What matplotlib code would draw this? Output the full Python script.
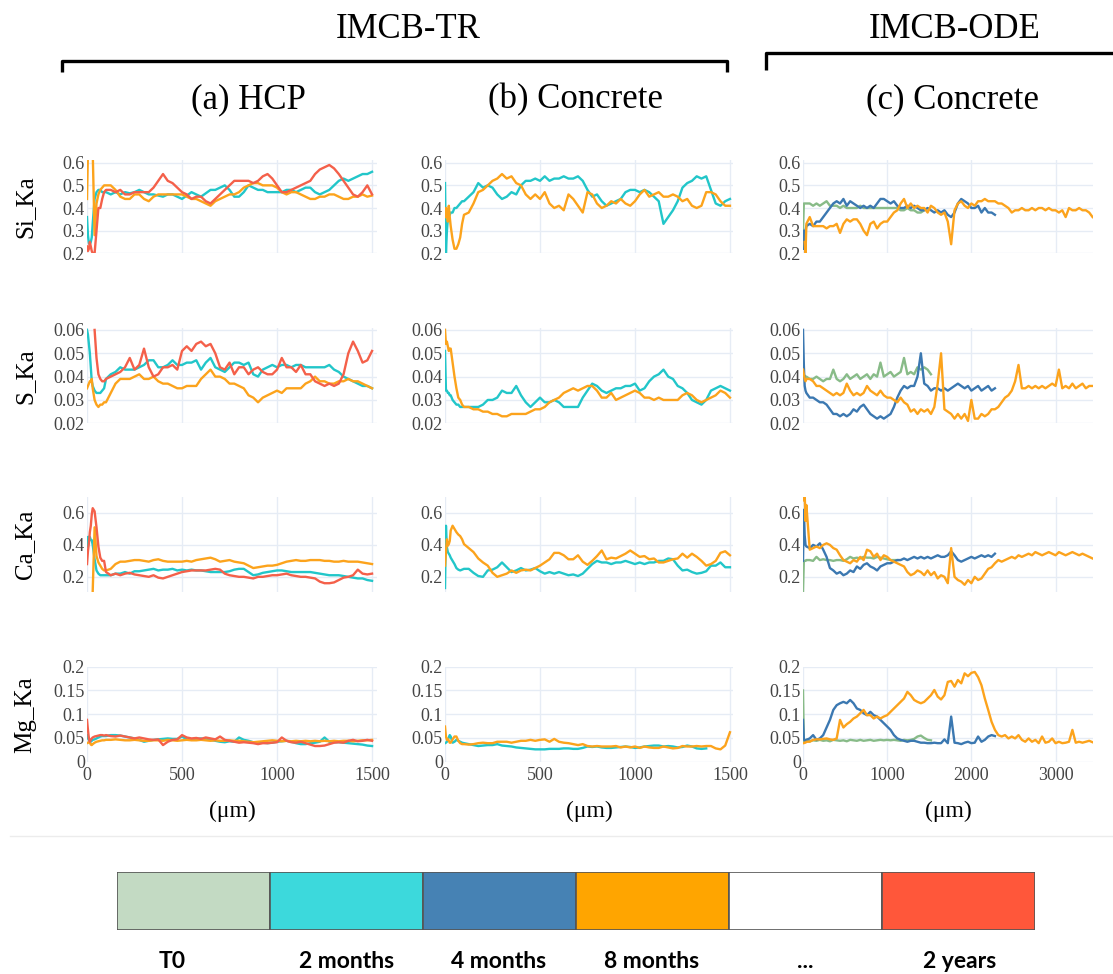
import matplotlib
matplotlib.use("Agg")
import matplotlib.pyplot as plt
from matplotlib.lines import Line2D

nan = float("nan")

# ---------------------------------------------------------------------------
# Sampling depths (µm) of the EDS line profiles
# ---------------------------------------------------------------------------
TR_DEPTH = [0, 5, 10, 15, 20, 25, 30, 40, 50, 60, 70, 80, 90] + list(range(100, 1501, 25))
ODE_DEPTH = [0, 10, 20, 30] + list(range(40, 3441, 40))

ELEMENTS = ["Si_Ka", "S_Ka", "Ca_Ka", "Mg_Ka"]
PERIODS = ["T0", "2 months", "4 months", "8 months", "...", "2 years"]
COLUMN_TITLES = ["(a) HCP", "(b) Concrete", "(c) Concrete"]
GROUP_TITLES = ["IMCB-TR", "IMCB-ODE"]

# ---------------------------------------------------------------------------
# Si_Ka
# ---------------------------------------------------------------------------
si_hcp_2m = [
    0.36, 0.28, 0.245, 0.24, 0.25, 0.27, 0.33, 0.44, 0.47, 0.48, 0.48, 0.47, 0.47,
    0.47, 0.46, 0.47, 0.46, 0.47, 0.465, 0.47, 0.48, 0.47, 0.46, 0.46, 0.455, 0.45, 0.46, 0.46, 0.45,
    0.44, 0.455, 0.47, 0.46, 0.45, 0.465, 0.48, 0.48, 0.49, 0.50, 0.48, 0.45, 0.45, 0.47, 0.50, 0.49,
    0.48, 0.48, 0.47, 0.47, 0.47, 0.47, 0.48, 0.48, 0.47, 0.48, 0.49, 0.49, 0.47, 0.46, 0.47, 0.48,
    0.50, 0.52, 0.53, 0.52, 0.53, 0.54, 0.55, 0.55, 0.56]
si_hcp_8m = [
    0.44, 0.65, 0.65, 0.65, 0.65, 0.65, 0.65, 0.28, 0.42, 0.46, 0.48, 0.49, 0.50,
    0.50, 0.50, 0.48, 0.45, 0.44, 0.44, 0.46, 0.46, 0.44, 0.43, 0.45, 0.46, 0.46, 0.46, 0.46, 0.46,
    0.46, 0.45, 0.44, 0.44, 0.43, 0.42, 0.41, 0.43, 0.44, 0.45, 0.46, 0.46, 0.47, 0.49, 0.50, 0.51,
    0.51, 0.50, 0.50, 0.50, 0.49, 0.47, 0.46, 0.47, 0.47, 0.46, 0.45, 0.44, 0.44, 0.45, 0.45, 0.46,
    0.46, 0.45, 0.44, 0.44, 0.45, 0.45, 0.46, 0.45, 0.455]
si_hcp_2y = [
    0.23, 0.21, 0.22, 0.25, 0.23, 0.21, 0.20, 0.20, 0.30, 0.40, 0.40, 0.44, 0.47,
    0.48, 0.48, 0.47, 0.48, 0.46, 0.46, 0.47, 0.47, 0.47, 0.47, 0.49, 0.52, 0.55, 0.52, 0.51, 0.49,
    0.47, 0.46, 0.44, 0.45, 0.45, 0.43, 0.42, 0.44, 0.46, 0.48, 0.50, 0.52, 0.52, 0.52, 0.52, 0.51,
    0.52, 0.54, 0.55, 0.53, 0.50, 0.47, 0.47, 0.48, 0.49, 0.50, 0.51, 0.52, 0.55, 0.57, 0.58, 0.59,
    0.575, 0.55, 0.52, 0.49, 0.46, 0.45, 0.47, 0.50, 0.46]
si_con_2m = [
    0.51, 0.20, 0.30, 0.35, 0.36, 0.37, 0.38, 0.38, 0.40, 0.40, 0.41, 0.42, 0.43,
    0.43, 0.45, 0.47, 0.51, 0.49, 0.50, 0.49, 0.46, 0.44, 0.45, 0.47, 0.46, 0.50, 0.52, 0.52, 0.53,
    0.52, 0.54, 0.52, 0.53, 0.53, 0.54, 0.53, 0.53, 0.54, 0.52, 0.48, 0.45, 0.46, 0.43, 0.41, 0.42,
    0.43, 0.44, 0.47, 0.48, 0.48, 0.47, 0.48, 0.47, 0.45, 0.43, 0.33, 0.36, 0.39, 0.43, 0.49, 0.51,
    0.52, 0.54, 0.53, 0.54, 0.48, 0.42, 0.41, 0.43, 0.44]
si_con_8m = [
    0.36, 0.40, 0.38, 0.34, 0.41, 0.36, 0.32, 0.26, 0.22, 0.22, 0.24, 0.27, 0.33,
    0.37, 0.38, 0.42, 0.47, 0.48, 0.50, 0.52, 0.53, 0.55, 0.53, 0.54, 0.51, 0.50, 0.46, 0.44, 0.46,
    0.44, 0.47, 0.42, 0.40, 0.41, 0.39, 0.46, 0.44, 0.41, 0.38, 0.47, 0.46, 0.42, 0.40, 0.41, 0.43,
    0.42, 0.44, 0.42, 0.41, 0.43, 0.46, 0.48, 0.45, 0.46, 0.47, 0.45, 0.45, 0.46, 0.45, 0.43, 0.44,
    0.41, 0.40, 0.41, 0.47, 0.47, 0.46, 0.43, 0.41, 0.41]
si_ode_t0 = [
    0.30, 0.42, 0.42, 0.42,
    0.42, 0.42, 0.41, 0.42, 0.41, 0.42, 0.43, 0.41, 0.41, 0.41,
    0.40, 0.41, 0.40, 0.40, 0.40, 0.40, 0.41, 0.40, 0.40, 0.40,
    0.40, 0.40, 0.40, 0.40, 0.40, 0.40, 0.40, 0.40, 0.39, 0.39,
    0.40, 0.39, 0.39, 0.38, 0.38, 0.39]
si_ode_4m = [
    0.22, 0.30, 0.25, 0.30,
    0.32, 0.33, 0.32, 0.34, 0.34, 0.36, 0.38, 0.40, 0.42, 0.43,
    0.42, 0.44, 0.41, 0.43, 0.42, 0.41, 0.40, 0.41, 0.40, 0.41,
    0.40, 0.42, 0.44, 0.44, 0.43, 0.42, 0.43, 0.41, 0.40, 0.40,
    0.41, 0.40, 0.41, 0.40, 0.39, 0.39, 0.40, 0.39, 0.38, 0.39,
    0.38, 0.39, 0.37, 0.36, 0.38, 0.42, 0.44, 0.43, 0.42, 0.40,
    0.40, 0.41, 0.38, 0.40, 0.38, 0.38, 0.37]
si_ode_8m = [
    nan, nan, 0.25, 0.20,
    0.33, 0.36, 0.32, 0.32, 0.32, 0.32, 0.31, 0.32, 0.32, 0.33,
    0.29, 0.33, 0.35, 0.34, 0.35, 0.35, 0.33, 0.30, 0.28, 0.33,
    0.34, 0.31, 0.33, 0.34, 0.34, 0.36, 0.38, 0.39, 0.42, 0.44,
    0.40, 0.42, 0.40, 0.41, 0.40, 0.40, 0.38, 0.41, 0.40, 0.38,
    0.37, 0.38, 0.34, 0.24, 0.39, 0.42, 0.43, 0.41, 0.40, 0.42,
    0.41, 0.43, 0.43, 0.44, 0.43, 0.43, 0.43, 0.42, 0.42, 0.41,
    0.40, 0.38, 0.39, 0.39, 0.40, 0.39, 0.39, 0.40, 0.39, 0.40,
    0.40, 0.39, 0.40, 0.39, 0.39, 0.38, 0.39, 0.36, 0.40, 0.39,
    0.39, 0.40, 0.39, 0.39, 0.38, 0.36]

# ---------------------------------------------------------------------------
# S_Ka
# ---------------------------------------------------------------------------
s_hcp_2m = [
    0.060, 0.058, 0.054, 0.050, 0.044, 0.038, 0.036, 0.034, 0.033, 0.033, 0.033, 0.034, 0.035,
    0.039, 0.041, 0.042, 0.044, 0.043, 0.043, 0.043, 0.044, 0.045, 0.047, 0.047, 0.044, 0.044, 0.045, 0.047, 0.045,
    0.045, 0.046, 0.046, 0.047, 0.043, 0.046, 0.048, 0.044, 0.043, 0.042, 0.044, 0.046, 0.046, 0.045, 0.046, 0.041,
    0.040, 0.043, 0.044, 0.045, 0.044, 0.045, 0.045, 0.044, 0.045, 0.045, 0.044, 0.044, 0.044, 0.044, 0.044, 0.045,
    0.043, 0.042, 0.040, 0.039, 0.038, 0.037, 0.036, 0.036, 0.035]
s_hcp_8m = [
    0.035, 0.036, 0.037, 0.038, 0.038, 0.039, 0.035, 0.030, 0.028, 0.027, 0.028, 0.028, 0.029,
    0.029, 0.033, 0.037, 0.039, 0.039, 0.039, 0.040, 0.041, 0.039, 0.039, 0.040, 0.038, 0.037, 0.037, 0.036, 0.035,
    0.035, 0.036, 0.036, 0.036, 0.039, 0.041, 0.043, 0.040, 0.040, 0.039, 0.037, 0.037, 0.036, 0.035, 0.032, 0.031,
    0.029, 0.031, 0.032, 0.033, 0.034, 0.033, 0.035, 0.035, 0.035, 0.035, 0.037, 0.038, 0.040, 0.038, 0.038, 0.037,
    0.037, 0.038, 0.038, 0.039, 0.038, 0.038, 0.037, 0.036, 0.035]
s_hcp_2y = [
    nan, nan, nan, nan, nan, nan, nan, 0.060, 0.048, 0.041, 0.039, 0.038, 0.038,
    0.039, 0.040, 0.041, 0.042, 0.044, 0.048, 0.043, 0.045, 0.052, 0.044, 0.040, 0.041, 0.044, 0.044, 0.045, 0.043,
    0.051, 0.053, 0.051, 0.054, 0.055, 0.053, 0.054, 0.050, 0.044, 0.043, 0.046, 0.041, 0.044, 0.044, 0.041, 0.043,
    0.044, 0.042, 0.041, 0.041, 0.043, 0.048, 0.044, 0.044, 0.042, 0.045, 0.041, 0.041, 0.038, 0.037, 0.036, 0.037,
    0.036, 0.037, 0.041, 0.050, 0.055, 0.051, 0.046, 0.047, 0.051]
s_con_2m = [
    0.051, 0.034, 0.034, 0.033, 0.033, 0.032, 0.032, 0.030, 0.029, 0.028, 0.028, 0.027, 0.027,
    0.027, 0.027, 0.027, 0.027, 0.028, 0.030, 0.030, 0.031, 0.034, 0.033, 0.033, 0.036, 0.032, 0.029, 0.027, 0.029,
    0.031, 0.029, 0.029, 0.030, 0.029, 0.027, 0.027, 0.027, 0.027, 0.031, 0.034, 0.037, 0.036, 0.034, 0.033, 0.034,
    0.035, 0.035, 0.036, 0.036, 0.037, 0.034, 0.035, 0.038, 0.040, 0.041, 0.043, 0.040, 0.039, 0.036, 0.035, 0.033,
    0.030, 0.029, 0.028, 0.030, 0.034, 0.035, 0.036, 0.035, 0.034]
s_con_8m = [
    0.060, 0.054, 0.055, 0.053, 0.051, 0.052, 0.052, 0.046, 0.040, 0.035, 0.031, 0.030, 0.028,
    0.027, 0.027, 0.026, 0.026, 0.025, 0.025, 0.024, 0.024, 0.023, 0.023, 0.024, 0.024, 0.024, 0.024, 0.025, 0.026,
    0.026, 0.027, 0.029, 0.030, 0.031, 0.033, 0.034, 0.035, 0.034, 0.035, 0.036, 0.036, 0.034, 0.031, 0.031, 0.033,
    0.030, 0.031, 0.032, 0.033, 0.034, 0.033, 0.031, 0.031, 0.030, 0.031, 0.030, 0.030, 0.030, 0.030, 0.032, 0.033,
    0.032, 0.030, 0.029, 0.030, 0.031, 0.032, 0.034, 0.033, 0.031]
s_ode_t0 = [
    0.041, 0.041, 0.040, 0.040,
    0.040, 0.039, 0.039, 0.040, 0.039, 0.038, 0.039, 0.039, 0.043, 0.039,
    0.038, 0.039, 0.041, 0.039, 0.040, 0.041, 0.039, 0.040, 0.041, 0.039,
    0.041, 0.040, 0.046, 0.040, 0.041, 0.042, 0.040, 0.041, 0.042, 0.048,
    0.041, 0.042, 0.041, 0.044, 0.043, 0.044, 0.043, 0.041]
s_ode_4m = [
    0.060, 0.045, 0.036, 0.034,
    0.033, 0.031, 0.031, 0.030, 0.029, 0.029, 0.028, 0.026, 0.024, 0.024,
    0.023, 0.024, 0.023, 0.024, 0.026, 0.025, 0.027, 0.028, 0.026, 0.024,
    0.023, 0.022, 0.023, 0.022, 0.023, 0.024, 0.027, 0.031, 0.034, 0.036,
    0.035, 0.036, 0.036, 0.040, 0.050, 0.037, 0.036, 0.034, 0.035, 0.035,
    0.034, 0.035, 0.034, 0.035, 0.036, 0.037, 0.036, 0.035, 0.036, 0.034,
    0.035, 0.036, 0.034, 0.035, 0.036, 0.034, 0.035]
s_ode_8m = [
    0.043, 0.041, 0.039, 0.038,
    0.039, 0.039, 0.038, 0.036, 0.036, 0.035, 0.034, 0.033, 0.032, 0.033,
    0.032, 0.033, 0.037, 0.034, 0.032, 0.033, 0.032, 0.033, 0.036, 0.034,
    0.033, 0.032, 0.034, 0.032, 0.031, 0.031, 0.030, 0.029, 0.031, 0.029,
    0.028, 0.025, 0.026, 0.024, 0.026, 0.025, 0.026, 0.024, 0.027, 0.037,
    0.050, 0.026, 0.025, 0.024, 0.022, 0.024, 0.022, 0.024, 0.021, 0.030,
    0.022, 0.022, 0.024, 0.023, 0.024, 0.026, 0.026, 0.027, 0.029, 0.031,
    0.032, 0.034, 0.038, 0.045, 0.035, 0.035, 0.036, 0.035, 0.036, 0.035,
    0.036, 0.035, 0.036, 0.037, 0.036, 0.043, 0.035, 0.036, 0.035, 0.037,
    0.035, 0.036, 0.037, 0.035, 0.036, 0.036]

# ---------------------------------------------------------------------------
# Ca_Ka
# ---------------------------------------------------------------------------
ca_hcp_2m = [
    0.39, 0.45, 0.45, 0.45, 0.43, 0.43, 0.40, 0.31, 0.24, 0.22, 0.21, 0.21, 0.21,
    0.21, 0.21, 0.22, 0.22, 0.23, 0.22, 0.235, 0.235, 0.24, 0.245, 0.25, 0.24, 0.245, 0.245, 0.25, 0.24,
    0.245, 0.24, 0.245, 0.24, 0.24, 0.235, 0.23, 0.23, 0.23, 0.23, 0.235, 0.245, 0.25, 0.25, 0.23, 0.21,
    0.215, 0.225, 0.23, 0.235, 0.24, 0.24, 0.235, 0.23, 0.23, 0.23, 0.23, 0.23, 0.225, 0.22, 0.215, 0.21,
    0.21, 0.21, 0.205, 0.20, 0.195, 0.19, 0.19, 0.18, 0.175]
ca_hcp_8m = [
    nan, nan, nan, nan, nan, nan, 0.11, 0.51, 0.33, 0.29, 0.27, 0.25, 0.24,
    0.24, 0.25, 0.28, 0.295, 0.295, 0.30, 0.305, 0.305, 0.30, 0.295, 0.305, 0.31, 0.30, 0.295, 0.295, 0.295,
    0.295, 0.30, 0.295, 0.305, 0.31, 0.315, 0.32, 0.31, 0.295, 0.30, 0.305, 0.295, 0.29, 0.285, 0.27, 0.255,
    0.26, 0.265, 0.27, 0.27, 0.275, 0.285, 0.295, 0.30, 0.305, 0.30, 0.30, 0.305, 0.305, 0.305, 0.30, 0.30,
    0.295, 0.295, 0.30, 0.295, 0.295, 0.295, 0.29, 0.285, 0.28]
ca_hcp_2y = [
    0.28, 0.36, 0.41, 0.48, 0.52, 0.59, 0.63, 0.61, 0.51, 0.39, 0.32, 0.30, 0.30,
    0.23, 0.21, 0.22, 0.21, 0.22, 0.225, 0.215, 0.21, 0.205, 0.20, 0.21, 0.195, 0.19, 0.20, 0.21, 0.22,
    0.23, 0.235, 0.24, 0.24, 0.24, 0.24, 0.245, 0.25, 0.245, 0.22, 0.21, 0.205, 0.20, 0.20, 0.195, 0.19,
    0.20, 0.20, 0.205, 0.21, 0.21, 0.215, 0.22, 0.21, 0.205, 0.20, 0.20, 0.195, 0.19, 0.17, 0.16, 0.16,
    0.165, 0.18, 0.195, 0.20, 0.21, 0.245, 0.22, 0.215, 0.22]
ca_con_2m = [
    0.13, 0.52, 0.385, 0.355, 0.345, 0.335, 0.32, 0.30, 0.28, 0.255, 0.245, 0.24, 0.245,
    0.25, 0.25, 0.225, 0.205, 0.20, 0.24, 0.245, 0.26, 0.29, 0.26, 0.23, 0.24, 0.255, 0.24, 0.245, 0.255,
    0.235, 0.22, 0.23, 0.22, 0.23, 0.22, 0.21, 0.215, 0.205, 0.22, 0.25, 0.28, 0.30, 0.29, 0.29, 0.28,
    0.29, 0.29, 0.30, 0.29, 0.28, 0.29, 0.28, 0.29, 0.29, 0.30, 0.30, 0.315, 0.31, 0.27, 0.24, 0.245,
    0.23, 0.22, 0.225, 0.235, 0.27, 0.27, 0.29, 0.26, 0.26]
ca_con_8m = [
    0.27, 0.355, 0.435, 0.395, 0.405, 0.425, 0.49, 0.52, 0.50, 0.48, 0.465, 0.455, 0.435,
    0.405, 0.38, 0.355, 0.315, 0.29, 0.27, 0.225, 0.20, 0.21, 0.22, 0.24, 0.225, 0.24, 0.245, 0.24, 0.255,
    0.27, 0.29, 0.31, 0.35, 0.35, 0.335, 0.31, 0.31, 0.335, 0.295, 0.275, 0.30, 0.33, 0.365, 0.31, 0.32,
    0.315, 0.33, 0.345, 0.365, 0.345, 0.325, 0.33, 0.31, 0.315, 0.29, 0.29, 0.30, 0.31, 0.315, 0.345, 0.32,
    0.345, 0.325, 0.30, 0.27, 0.28, 0.30, 0.35, 0.36, 0.335]
ca_ode_t0 = [
    0.11, 0.30, 0.30, 0.30,
    0.305, 0.305, 0.30, 0.325, 0.305, 0.31, 0.305, 0.305, 0.30, 0.305,
    0.305, 0.30, 0.31, 0.325, 0.315, 0.32, 0.315, 0.325, 0.32, 0.32,
    0.315, 0.325, 0.32, 0.315, 0.31, 0.305, 0.305, 0.305]
ca_ode_4m = [
    0.30, 0.62, 0.46, 0.40,
    0.39, 0.38, 0.40, 0.39, 0.41, 0.37, 0.325, 0.255, 0.24, 0.22,
    0.23, 0.21, 0.22, 0.24, 0.23, 0.265, 0.25, 0.275, 0.285, 0.265,
    0.255, 0.24, 0.265, 0.275, 0.285, 0.285, 0.295, 0.305, 0.305, 0.315,
    0.305, 0.315, 0.325, 0.315, 0.325, 0.315, 0.325, 0.315, 0.325, 0.335,
    0.325, 0.325, 0.335, 0.36, 0.335, 0.305, 0.295, 0.305, 0.315, 0.325,
    0.315, 0.325, 0.335, 0.325, 0.335, 0.325, 0.345]
ca_ode_8m = [
    0.68, 0.72, 0.72, 0.55,
    0.65, 0.37, 0.38, 0.39, 0.38, 0.40, 0.41, 0.40, 0.38, 0.37,
    0.335, 0.305, 0.295, 0.285, 0.305, 0.295, 0.325, 0.305, 0.37, 0.36,
    0.325, 0.345, 0.305, 0.335, 0.325, 0.305, 0.295, 0.285, 0.275, 0.265,
    0.23, 0.21, 0.22, 0.24, 0.23, 0.21, 0.24, 0.21, 0.23, 0.19,
    0.21, 0.20, 0.16, 0.38, 0.20, 0.18, 0.17, 0.15, 0.18, 0.16,
    0.20, 0.18, 0.19, 0.22, 0.25, 0.26, 0.285, 0.305, 0.295, 0.305,
    0.315, 0.325, 0.315, 0.335, 0.325, 0.335, 0.345, 0.335, 0.355, 0.345,
    0.335, 0.345, 0.355, 0.345, 0.335, 0.355, 0.345, 0.335, 0.345, 0.355,
    0.345, 0.335, 0.345, 0.335, 0.325, 0.315]

# ---------------------------------------------------------------------------
# Mg_Ka
# ---------------------------------------------------------------------------
mg_hcp_2m = [
    0.056, 0.049, 0.046, 0.042, 0.042, 0.044, 0.046, 0.047, 0.049, 0.051, 0.053, 0.054, 0.054,
    0.054, 0.056, 0.056, 0.055, 0.053, 0.051, 0.049, 0.046, 0.042, 0.044, 0.046, 0.047, 0.048, 0.049, 0.048, 0.048,
    0.053, 0.047, 0.046, 0.048, 0.049, 0.047, 0.046, 0.044, 0.042, 0.041, 0.043, 0.042, 0.051, 0.046, 0.044, 0.041,
    0.040, 0.040, 0.039, 0.040, 0.042, 0.043, 0.044, 0.042, 0.039, 0.037, 0.037, 0.039, 0.040, 0.042, 0.051, 0.042,
    0.041, 0.041, 0.040, 0.039, 0.038, 0.037, 0.036, 0.034, 0.033]
mg_hcp_8m = [
    0.039, 0.040, 0.041, 0.040, 0.036, 0.035, 0.037, 0.040, 0.042, 0.043, 0.044, 0.045, 0.045,
    0.046, 0.046, 0.047, 0.046, 0.045, 0.045, 0.046, 0.045, 0.044, 0.044, 0.045, 0.045, 0.044, 0.046, 0.045, 0.044,
    0.045, 0.046, 0.045, 0.045, 0.046, 0.045, 0.044, 0.045, 0.044, 0.044, 0.045, 0.044, 0.044, 0.043, 0.042, 0.041,
    0.042, 0.043, 0.044, 0.045, 0.044, 0.043, 0.044, 0.043, 0.044, 0.043, 0.044, 0.043, 0.044, 0.043, 0.044, 0.043,
    0.044, 0.043, 0.044, 0.044, 0.043, 0.044, 0.045, 0.045, 0.046]
mg_hcp_2y = [
    0.088, 0.067, 0.049, 0.042, 0.046, 0.049, 0.051, 0.053, 0.054, 0.055, 0.056, 0.056, 0.055,
    0.056, 0.054, 0.053, 0.055, 0.053, 0.051, 0.049, 0.051, 0.049, 0.047, 0.046, 0.047, 0.035, 0.042, 0.046, 0.047,
    0.056, 0.051, 0.049, 0.050, 0.048, 0.051, 0.049, 0.047, 0.053, 0.046, 0.044, 0.042, 0.040, 0.041, 0.040, 0.039,
    0.037, 0.039, 0.039, 0.040, 0.041, 0.051, 0.044, 0.041, 0.040, 0.042, 0.039, 0.036, 0.033, 0.033, 0.034, 0.037,
    0.040, 0.041, 0.040, 0.044, 0.046, 0.043, 0.044, 0.046, 0.044]
mg_con_2m = [
    0.039, 0.040, 0.042, 0.046, 0.051, 0.056, 0.053, 0.040, 0.042, 0.046, 0.044, 0.042, 0.040,
    0.039, 0.037, 0.035, 0.033, 0.034, 0.035, 0.035, 0.037, 0.034, 0.033, 0.032, 0.030, 0.029, 0.028, 0.027, 0.026,
    0.026, 0.026, 0.027, 0.027, 0.027, 0.028, 0.028, 0.027, 0.027, 0.029, 0.032, 0.031, 0.032, 0.030, 0.029, 0.029,
    0.030, 0.031, 0.032, 0.031, 0.029, 0.030, 0.032, 0.033, 0.034, 0.034, 0.032, 0.033, 0.032, 0.030, 0.031, 0.034,
    0.032, 0.028, 0.027, 0.028]
mg_con_8m = [
    0.074, 0.053, 0.046, 0.048, 0.044, 0.040, 0.040, 0.047, 0.053, 0.053, 0.044, 0.039, 0.037,
    0.037, 0.036, 0.037, 0.039, 0.040, 0.039, 0.039, 0.042, 0.042, 0.042, 0.040, 0.042, 0.044, 0.044, 0.046, 0.044,
    0.046, 0.047, 0.042, 0.048, 0.042, 0.040, 0.039, 0.037, 0.035, 0.037, 0.033, 0.032, 0.033, 0.032, 0.032, 0.032,
    0.033, 0.030, 0.032, 0.030, 0.032, 0.029, 0.032, 0.030, 0.029, 0.029, 0.032, 0.030, 0.028, 0.029, 0.033, 0.032,
    0.032, 0.033, 0.032, 0.033, 0.033, 0.028, 0.026, 0.034, 0.062]
mg_ode_t0 = [
    0.15, 0.040, 0.045, 0.046,
    0.046, 0.043, 0.045, 0.044, 0.046, 0.044, 0.045, 0.043, 0.046, 0.045,
    0.044, 0.045, 0.043, 0.046, 0.045, 0.044, 0.046, 0.044, 0.045, 0.046,
    0.044, 0.045, 0.046, 0.045, 0.046, 0.045, 0.046, 0.045, 0.044, 0.046,
    0.045, 0.046, 0.048, 0.053, 0.055, 0.050, 0.046, 0.045]
mg_ode_4m = [
    0.088, 0.047, 0.045, 0.044,
    0.046, 0.049, 0.056, 0.046, 0.049, 0.056, 0.072, 0.088, 0.109, 0.119,
    0.123, 0.126, 0.123, 0.130, 0.123, 0.112, 0.109, 0.102, 0.098, 0.105,
    0.098, 0.095, 0.088, 0.081, 0.074, 0.067, 0.056, 0.049, 0.046, 0.044,
    0.042, 0.044, 0.044, 0.042, 0.040, 0.040, 0.039, 0.039, 0.040, 0.039,
    0.039, 0.047, 0.039, 0.095, 0.040, 0.039, 0.037, 0.040, 0.042, 0.039,
    0.040, 0.053, 0.042, 0.046, 0.053, 0.056, 0.054]
mg_ode_8m = [
    0.039, 0.039, 0.040, 0.040,
    0.042, 0.042, 0.046, 0.047, 0.047, 0.048, 0.049, 0.047, 0.046, 0.049,
    0.088, 0.072, 0.079, 0.084, 0.091, 0.095, 0.102, 0.109, 0.098, 0.098,
    0.091, 0.095, 0.091, 0.095, 0.098, 0.105, 0.112, 0.119, 0.126, 0.133,
    0.147, 0.140, 0.130, 0.126, 0.123, 0.126, 0.133, 0.140, 0.151, 0.137,
    0.131, 0.140, 0.168, 0.170, 0.158, 0.172, 0.165, 0.186, 0.180, 0.187,
    0.189, 0.178, 0.161, 0.133, 0.109, 0.084, 0.067, 0.056, 0.053, 0.056,
    0.049, 0.053, 0.049, 0.056, 0.046, 0.042, 0.049, 0.042, 0.046, 0.039,
    0.053, 0.040, 0.042, 0.049, 0.039, 0.042, 0.039, 0.040, 0.042, 0.067,
    0.040, 0.042, 0.040, 0.042, 0.044, 0.041]

# ---------------------------------------------------------------------------
# Axis settings per element row
# ---------------------------------------------------------------------------
Y_LIMITS = [(0.2, 0.612), (0.02, 0.0607), (0.105, 0.70), (0.0, 0.2)]
Y_TICKS = [[0.2, 0.3, 0.4, 0.5, 0.6],
           [0.02, 0.03, 0.04, 0.05, 0.06],
           [0.2, 0.4, 0.6],
           [0.0, 0.05, 0.1, 0.15, 0.2]]
Y_TICKLABELS = [["0.2", "0.3", "0.4", "0.5", "0.6"],
                ["0.02", "0.03", "0.04", "0.05", "0.06"],
                ["0.2", "0.4", "0.6"],
                ["0", "0.05", "0.1", "0.15", "0.2"]]
X_LIMITS = [(0, 1526), (0, 1516), (0, 3445)]
X_TICKS = [[0, 500, 1000, 1500], [0, 500, 1000, 1500], [0, 1000, 2000, 3000]]

LINE_COLORS = {"T0": "#88bb88", "2 months": "#22c6c9", "4 months": "#3b78b1",
               "8 months": "#fca31c", "2 years": "#f4604a"}
LEGEND_COLORS = ["#c3dac3", "#3cd9dc", "#4682b4", "#ffa500", "#ffffff", "#ff573a"]

PANELS = [
    [[(si_hcp_2m, "2 months"), (si_hcp_8m, "8 months"), (si_hcp_2y, "2 years")],
     [(si_con_2m, "2 months"), (si_con_8m, "8 months")],
     [(si_ode_t0, "T0"), (si_ode_4m, "4 months"), (si_ode_8m, "8 months")]],
    [[(s_hcp_2m, "2 months"), (s_hcp_8m, "8 months"), (s_hcp_2y, "2 years")],
     [(s_con_2m, "2 months"), (s_con_8m, "8 months")],
     [(s_ode_t0, "T0"), (s_ode_4m, "4 months"), (s_ode_8m, "8 months")]],
    [[(ca_hcp_2m, "2 months"), (ca_hcp_8m, "8 months"), (ca_hcp_2y, "2 years")],
     [(ca_con_2m, "2 months"), (ca_con_8m, "8 months")],
     [(ca_ode_t0, "T0"), (ca_ode_4m, "4 months"), (ca_ode_8m, "8 months")]],
    [[(mg_hcp_2m, "2 months"), (mg_hcp_8m, "8 months"), (mg_hcp_2y, "2 years")],
     [(mg_con_2m, "2 months"), (mg_con_8m, "8 months")],
     [(mg_ode_t0, "T0"), (mg_ode_4m, "4 months"), (mg_ode_8m, "8 months")]],
]
COLUMN_DEPTHS = [TR_DEPTH, TR_DEPTH, ODE_DEPTH]

# ---------------------------------------------------------------------------
# Figure layout (pixel geometry of a 1113 x 974 canvas)
# ---------------------------------------------------------------------------
W, H = 1113, 974
COL_EDGES = [(87, 377), (445, 733), (803, 1093)]
ROW_EDGES = [(160, 253.3), (328.3, 423.3), (497, 592), (666.7, 761.7)]
TITLE_X = [248, 575, 952]

plt.rcParams["font.family"] = ["Liberation Serif", "DejaVu Serif"]
fig = plt.figure(figsize=(W / 100, H / 100), dpi=100)
fig.patch.set_facecolor("white")


def fx(x):
    return x / W


def fy(y):
    return 1 - y / H


GRID_COLOR = "#e6ecf5"
TICK_COLOR = "#444444"

for r in range(4):
    top, bottom = ROW_EDGES[r]
    for c in range(3):
        left, right = COL_EDGES[c]
        ax = fig.add_axes([fx(left), fy(bottom), (right - left) / W, (bottom - top) / H])
        ax.set_facecolor("white")
        depth = COLUMN_DEPTHS[c]
        for vals, period in PANELS[r][c]:
            ax.plot(depth[:len(vals)], vals, color=LINE_COLORS[period], lw=1.7,
                    solid_joinstyle="round")
        ax.set_xlim(*X_LIMITS[c])
        ax.set_ylim(*Y_LIMITS[r])
        ax.set_xticks(X_TICKS[c])
        ax.set_yticks(Y_TICKS[r], Y_TICKLABELS[r])
        ax.grid(True, color=GRID_COLOR, lw=1.0)
        ax.set_axisbelow(True)
        for sp in ax.spines.values():
            sp.set_visible(False)
        ax.tick_params(axis="both", length=0, labelsize=13, labelcolor=TICK_COLOR)
        ax.tick_params(axis="y", pad=1.5)
        ax.tick_params(axis="x", pad=4, labelbottom=(r == 3))
        if r == 3:
            ax.set_xlabel("(\u03bcm)", fontsize=17, labelpad=12)
    fig.text(fx(25), fy((top + bottom) / 2), ELEMENTS[r], rotation=90,
             ha="center", va="center", fontsize=18)

# column titles
for x, title in zip(TITLE_X, COLUMN_TITLES):
    fig.text(fx(x), fy(100), title, ha="center", va="center", fontsize=25)

# group headers with brackets
fig.text(fx(408), fy(30), GROUP_TITLES[0], ha="center", va="center", fontsize=25)
fig.text(fx(955), fy(30), GROUP_TITLES[1], ha="center", va="center", fontsize=25)
bracket_kw = dict(color="black", lw=2.4, transform=fig.transFigure, solid_capstyle="butt")
fig.add_artist(Line2D([fx(62), fx(62), fx(727), fx(727)],
                      [fy(72), fy(61), fy(61), fy(72)], **bracket_kw))
fig.add_artist(Line2D([fx(766), fx(766), fx(1113)],
                      [fy(70), fy(53), fy(53)], **bracket_kw))

# faint separator under the plot block
fig.add_artist(Line2D([fx(10), fx(1113)], [fy(836), fy(836)], color="#ececec", lw=1.0,
                      transform=fig.transFigure))

# colour key
key_ax = fig.add_axes([fx(117), fy(930), (1035 - 117) / W, (930 - 872) / H])
key_ax.bar(range(len(PERIODS)), [1] * len(PERIODS), width=1.0,
           color=LEGEND_COLORS, edgecolor="#555555", linewidth=1.2)
key_ax.set_xlim(-0.5, len(PERIODS) - 0.5)
key_ax.set_ylim(0, 1)
key_ax.axis("off")
LABEL_X = [172, 347, 499, 652, 805, 960]
for label, x in zip(PERIODS, LABEL_X):
    fig.text(fx(x), fy(968), label, ha="center", va="baseline",
             fontsize=16.5, fontweight="bold", family=["Lato", "DejaVu Sans"])

fig.savefig("out.png", dpi=100, facecolor="white")
